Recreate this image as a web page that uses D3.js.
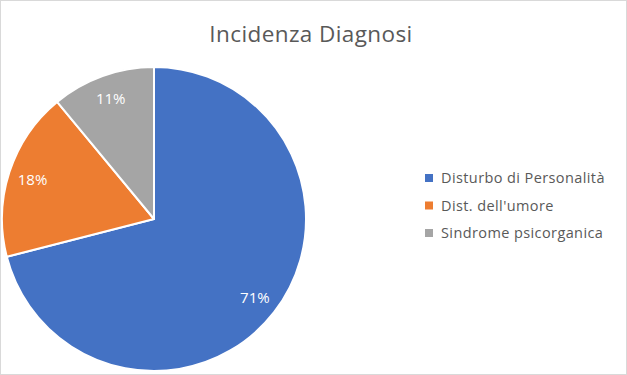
<html>
  <head>
    <script src="https://cdn.jsdelivr.net/npm/d3@7"></script>
    <style>
      body { margin: 0; background: #fff; }
      text { font-family: "Open Sans", Lato, sans-serif; }
    </style>
  </head>
  <body>
    <div id="container"></div>
  </body>
  <script>
    const categories = ["Disturbo di Personalità", "Dist. dell'umore", "Sindrome psicorganica"];
    const values = [71, 18, 11];
    const colors = ["#4472c4", "#ed7d31", "#a5a5a5"];

    const svgW = 627, svgH = 375,
      cx = 154, cy = 219, radius = 152;

    const svg = d3.create("svg")
      .attr("width", svgW)
      .attr("height", svgH);

    // bordo esterno
    svg.append("rect")
      .attr("x", 0.5).attr("y", 0.5)
      .attr("width", svgW - 1).attr("height", svgH - 1)
      .attr("fill", "#fff")
      .attr("stroke", "#d9d9d9");

    svg.append("text")
      .attr("x", 311)
      .attr("y", 42)
      .attr("text-anchor", "middle")
      .attr("font-size", 22.5)
      .attr("letter-spacing", 0.4)
      .attr("fill", "#595959")
      .text("Incidenza Diagnosi");

    const pie = d3.pie().sort(null).value((d) => d);
    const arcs = pie(values);
    const arc = d3.arc().innerRadius(0).outerRadius(radius);
    const labelArc = d3.arc().innerRadius(radius * 0.84).outerRadius(radius * 0.84);
    const total = d3.sum(values);

    const g = svg.append("g").attr("transform", `translate(${cx},${cy})`);

    g.selectAll("path")
      .data(arcs)
      .join("path")
      .attr("d", arc)
      .attr("fill", (d, i) => colors[i])
      .attr("stroke", "#fff")
      .attr("stroke-width", 2)
      .attr("stroke-linejoin", "round");

    g.selectAll(".lbl")
      .data(arcs)
      .join("text")
      .attr("class", "lbl")
      .attr("transform", (d) => `translate(${labelArc.centroid(d)})`)
      .attr("text-anchor", "middle")
      .attr("dy", "0.35em")
      .attr("font-size", 15)
      .attr("fill", "#fff")
      .text((d) => Math.round((d.value / total) * 100) + "%");

    const legend = svg.append("g").attr("transform", "translate(425,178)");
    const rows = legend.selectAll("g")
      .data(categories)
      .join("g")
      .attr("transform", (d, i) => `translate(0,${i * 27.5})`);
    rows.append("rect")
      .attr("x", 0).attr("y", -4)
      .attr("width", 8).attr("height", 8)
      .attr("fill", (d, i) => colors[i]);
    rows.append("text")
      .attr("x", 16)
      .attr("dy", "0.35em")
      .attr("font-size", 14.5)
      .attr("letter-spacing", 0.4)
      .attr("fill", "#595959")
      .text((d) => d);

    container.append(svg.node());
  </script>
</html>
